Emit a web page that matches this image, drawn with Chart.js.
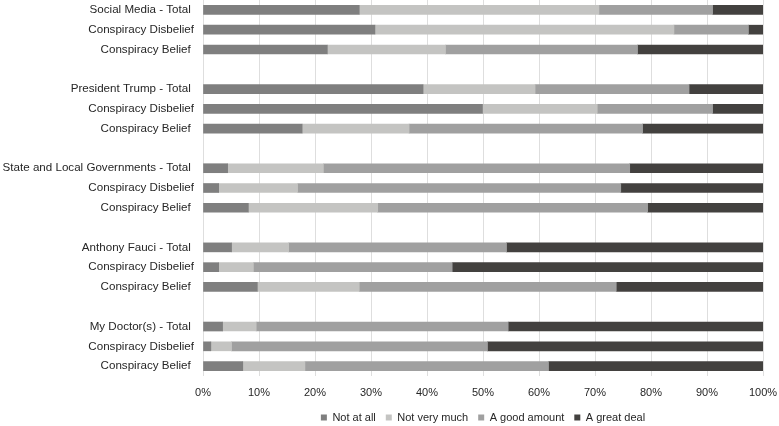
<!DOCTYPE html>
<html>
<head>
<meta charset="utf-8">
<script src="https://cdn.jsdelivr.net/npm/chart.js@4"></script>
<style>
  body { margin: 0; background: #fff; }
</style>
</head>
<body>
<canvas id="chart" width="779" height="426"></canvas>
<script>
    // Categorias (filas vacias separan los grupos)
    const categories = [
        'Social Media - Total ', 'Conspiracy Disbelief', 'Conspiracy Belief ', '',
        'President Trump - Total ', 'Conspiracy Disbelief', 'Conspiracy Belief ', '',
        'State and Local Governments - Total ', 'Conspiracy Disbelief', 'Conspiracy Belief ', '',
        'Anthony Fauci - Total ', 'Conspiracy Disbelief', 'Conspiracy Belief ', '',
        'My Doctor(s) - Total ', 'Conspiracy Disbelief', 'Conspiracy Belief '
    ];

    const notAtAll    = [27.9, 30.7, 22.2, null, 39.3, 49.9, 17.7, null, 4.4, 2.8, 8.1, null, 5.1, 2.8, 9.7, null, 3.5, 1.4, 7.1];
    const notVeryMuch = [42.8, 53.4, 21.1, null, 20.0, 20.5, 19.1, null, 17.1, 14.1, 23.1, null, 10.2, 6.2, 18.2, null, 6.0, 3.7, 11.1];
    const goodAmount  = [20.3, 13.3, 34.3, null, 27.5, 20.6, 41.7, null, 54.7, 57.7, 48.2, null, 38.9, 35.5, 45.9, null, 45.0, 45.7, 43.5];
    const greatDeal   = [9.0, 2.6, 22.4, null, 13.2, 9.0, 21.5, null, 23.8, 25.4, 20.6, null, 45.8, 55.5, 26.2, null, 45.5, 49.2, 38.3];

    const seriesNames = ['Not at all', 'Not very much', 'A good amount', 'A great deal'];
    const seriesColors = ['#7f7f7f', '#c4c4c2', '#a0a0a0', '#43413f'];

    Chart.defaults.font.family = "'Liberation Sans', Arial, sans-serif";
    Chart.defaults.color = '#262626';

    const allSeries = [notAtAll, notVeryMuch, goodAmount, greatDeal];

    new Chart(document.getElementById('chart'), {
        type: 'bar',
        data: {
            labels: categories,
            datasets: allSeries.map((values, i) => ({
                label: seriesNames[i],
                data: values,
                backgroundColor: seriesColors[i],
                borderWidth: 0,
                barThickness: 9
            }))
        },
        options: {
            indexAxis: 'y',
            responsive: false,
            devicePixelRatio: 1,
            animation: false,
            layout: { padding: { right: 16, top: 0, bottom: 0, left: 0 } },
            plugins: {
                tooltip: { enabled: false },
                legend: {
                    position: 'bottom',
                    fullSize: false,
                    maxHeight: 24,
                    labels: {
                        boxWidth: 6,
                        boxHeight: 6,
                        padding: 10,
                        font: { size: 11 }
                    }
                }
            },
            scales: {
                x: {
                    stacked: true,
                    min: 0,
                    max: 100,
                    border: { display: false },
                    grid: { color: '#dedede', drawTicks: false },
                    ticks: {
                        stepSize: 10,
                        padding: 10,
                        font: { size: 11 },
                        callback: v => v + '%'
                    },
                    afterFit: scale => {
                        scale.height = 26;
                        scale.paddingLeft = 0;
                        scale.paddingRight = 0;
                    }
                },
                y: {
                    stacked: true,
                    border: { display: false },
                    grid: { display: false, drawTicks: false },
                    ticks: {
                        padding: 9,
                        autoSkip: false,
                        font: { size: 11.6 }
                    },
                    afterFit: scale => {
                        scale.width = 203;
                        scale.paddingTop = 0;
                        scale.paddingBottom = 0;
                    }
                }
            }
        }
    });
</script>
</body>
</html>
